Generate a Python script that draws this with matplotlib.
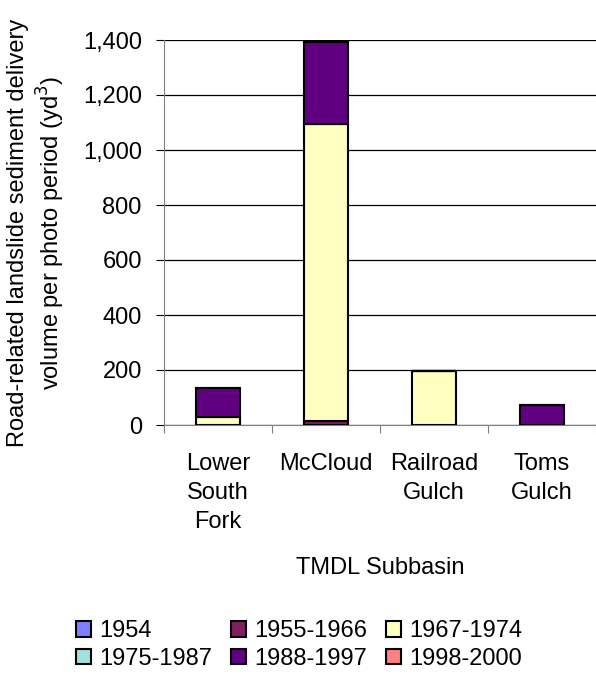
import matplotlib
matplotlib.use("Agg")
import matplotlib.pyplot as plt
import numpy as np

plt.rcParams['font.family'] = ['Liberation Sans', 'DejaVu Sans']
FS = 17

categories = ["Lower\nSouth\nFork", "McCloud", "Railroad\nGulch", "Toms\nGulch"]
periods = ["1954", "1955-1966", "1967-1974", "1975-1987", "1988-1997", "1998-2000"]
v1954 = [0, 0, 0, 0]
v1955_1966 = [0, 15, 0, 0]
v1967_1974 = [30, 1080, 197, 0]
v1975_1987 = [0, 0, 0, 0]
v1988_1997 = [103, 296, 0, 73]
v1998_2000 = [0, 0, 0, 0]
series = [v1954, v1955_1966, v1967_1974, v1975_1987, v1988_1997, v1998_2000]
colors = ["#8080FF", "#802060", "#FFFFC0", "#A0E0E0", "#600080", "#FF8080"]

fig = plt.figure(figsize=(5.96, 6.87), dpi=100)
ax = fig.add_axes([164/596, 1 - 425/687, 432/596, 385/687])

x = np.arange(len(categories))
bottom = np.zeros(len(categories))
handles = []
for name, vals, c in zip(periods, series, colors):
    vals = np.array(vals, dtype=float)
    b = ax.bar(x, vals, 0.41, bottom=bottom, color=c, edgecolor="black",
               linewidth=1.5, label=name, zorder=3)
    handles.append(b)
    bottom += vals

ax.set_xlim(-0.5, 3.5)
ax.set_ylim(0, 1400)
ax.set_yticks(np.arange(0, 1401, 200))
ax.set_yticklabels([f"{v:,}" for v in range(0, 1401, 200)], fontsize=FS)
ax.yaxis.grid(True, color="black", linewidth=0.9, zorder=0)
ax.set_xticks(np.arange(-0.5, 3.6, 1.0))
ax.set_xticklabels([])
ax.tick_params(axis='x', length=6, color="#808080", direction="out")
ax.tick_params(axis='y', length=6, color="black", direction="out", pad=10)
for i, lab in enumerate(categories):
    fig.text((164 + (i + 0.5) * 108) / 596, 1 - 453/687, lab, ha="center", va="top",
             fontsize=FS, linespacing=1.42)
for s in ["top", "right"]:
    ax.spines[s].set_visible(False)
ax.spines["left"].set_color("#808080")
ax.spines["bottom"].set_color("#808080")

fig.text(380/596, 1 - 568/687, "TMDL Subbasin", ha="center", va="center", fontsize=FS)
fig.text(37/596, 1 - 233/687,
         "Road-related landslide sediment delivery\nvolume per photo period (yd$^3$)",
         rotation=90, ha="center", va="center", fontsize=FS, linespacing=1.2)

order = [0, 3, 1, 4, 2, 5]
leg = fig.legend(handles=[handles[i] for i in order], labels=[periods[i] for i in order],
                 ncol=3, loc="center", bbox_to_anchor=(0.502, 1 - 645/687),
                 frameon=False, fontsize=FS,
                 handlelength=0.64, handleheight=0.64, handletextpad=0.34,
                 columnspacing=0.8, labelspacing=0.25, borderpad=0)

fig.savefig("out.png", dpi=100)
